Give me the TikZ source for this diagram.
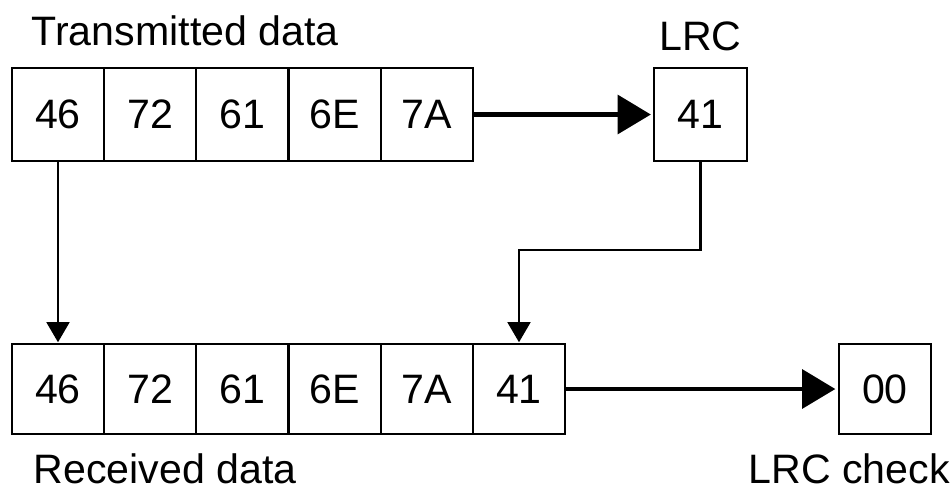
\documentclass[tikz,border=0pt]{standalone}
\usepackage{fontspec}
\setmainfont{Liberation Sans}
\usetikzlibrary{positioning,arrows.meta}

\tikzset{
	cell/.style={draw, line width=0.6pt, minimum width=9.22mm, minimum height=9.3mm,
		inner sep=0pt, outer sep=0pt, font=\fontsize{11.7}{14}\selectfont},
	lowcell/.style={cell, minimum height=9mm},
	caption/.style={inner sep=0pt, font=\fontsize{11.7}{14}\selectfont},
	bigarrow/.style={line width=1.4pt, -{Triangle[length=9.5pt,width=11pt]}, shorten >=1pt},
	smallarrow/.style={line width=0.6pt, -{Triangle[length=5.7pt,width=6.5pt]}, shorten >=0.5pt}
}

\begin{document}
\begin{tikzpicture}[x=0.1mm, y=-0.1mm]
	\useasboundingbox (0,0) rectangle (951,489);

	%transmitted row
	\node[cell] (t1) at (58,114.5) {46};
	\node[cell, right=0pt of t1] (t2) {72};
	\node[cell, right=0pt of t2] (t3) {61};
	\node[cell, right=0pt of t3] (t4) {6E};
	\node[cell, right=0pt of t4] (t5) {7A};
	%
	\node[cell] (lrc) at (700.5,114.5) {41};

	%received row
	\node[lowcell] (r1) at (58,389) {46};
	\node[lowcell, right=0pt of r1] (r2) {72};
	\node[lowcell, right=0pt of r2] (r3) {61};
	\node[lowcell, right=0pt of r3] (r4) {6E};
	\node[lowcell, right=0pt of r4] (r5) {7A};
	\node[lowcell, right=0pt of r5] (r6) {41};
	%
	\node[lowcell] (chk) at (885,389) {00};

	%labels
	\node[caption, anchor=base west] (txlabel) at (31,45) {Transmitted data};
	\node[caption, anchor=base] (lrclabel) at (700.5,50) {LRC};
	\node[caption, anchor=base west] (rxlabel) at (33,483) {Received data};
	\node[caption, anchor=base west] (chklabel) at (748,483) {LRC check};

	%arrows
	\draw[bigarrow] (t5.east) -- (lrc.west);
	\draw[bigarrow] (r6.east) -- (chk.west);
	\draw[smallarrow] (t1.south) -- (r1.north);
	\draw[smallarrow] (lrc.south) -- ++(0,89) -| (r6.north);
\end{tikzpicture}
\end{document}
